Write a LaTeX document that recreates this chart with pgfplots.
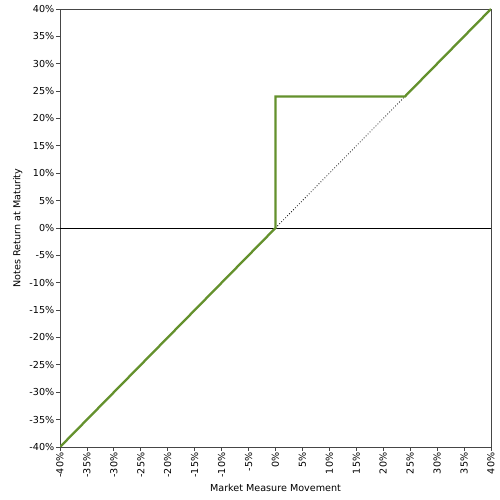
\documentclass[border=0pt]{standalone}
\usepackage{pgfplots}
\pgfplotsset{compat=1.18}
\usepackage{fontspec}
\setmainfont{DejaVu Sans}
\usetikzlibrary{calc}
\definecolor{lgreen}{RGB}{100,145,45}
\definecolor{axgray}{RGB}{70,70,70}
\begin{document}
\begin{tikzpicture}[x=1pt,y=1pt]
\begin{axis}[
  scale only axis,
  width=431pt, height=438pt,
  xmin=-40, xmax=40, ymin=-40, ymax=40,
  xtick={-40,-35,...,40}, ytick={-40,-35,...,40},
  xticklabels={-40\%,-35\%,-30\%,-25\%,-20\%,-15\%,-10\%,-5\%,0\%,5\%,10\%,15\%,20\%,25\%,30\%,35\%,40\%},
  yticklabels={-40\%,-35\%,-30\%,-25\%,-20\%,-15\%,-10\%,-5\%,0\%,5\%,10\%,15\%,20\%,25\%,30\%,35\%,40\%},
  x tick label style={rotate=90, anchor=east, font=\fontsize{9.6}{10}\selectfont, inner sep=1.5pt},
  y tick label style={font=\fontsize{9.6}{10}\selectfont, inner sep=1.5pt},
  tick align=outside,
  xtick pos=bottom, ytick pos=left,
  major tick length=4pt,
  tick style={axgray, line width=0.8pt},
  axis line style={axgray, line width=0.8pt},
  xlabel={Market Measure Movement},
  ylabel={Notes Return at Maturity},
  label style={font=\fontsize{9.6}{10}\selectfont},
  xlabel style={yshift=-2pt},
  ylabel style={yshift=2pt},
]
\addplot[black, line width=0.6pt, forget plot] coordinates {(-40,0) (40,0)};
\addplot[black, dotted, line width=0.8pt] coordinates {(0,0) (24,24)};
\addplot[lgreen, line width=2.3pt, line join=miter] coordinates {(-40,-40) (0,0) (0,24) (24,24) (40,40)};
\end{axis}
\pgfresetboundingbox
\useasboundingbox ($(current axis.south west)+(-60pt,-53pt)$) rectangle ($(current axis.north east)+(9pt,9pt)$);
\end{tikzpicture}
\end{document}
